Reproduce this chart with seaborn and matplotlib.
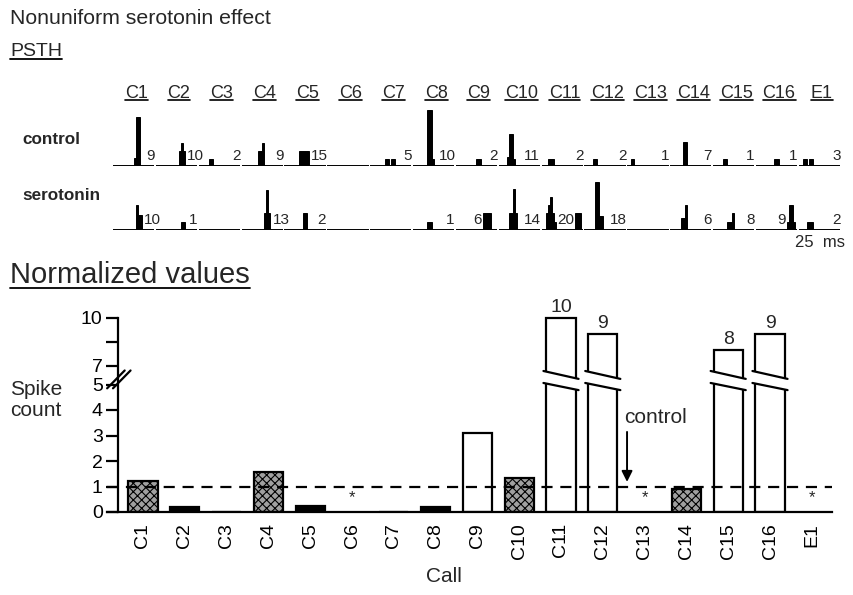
import numpy as np
import pandas as pd
import matplotlib
matplotlib.use("Agg")
import matplotlib.pyplot as plt
import seaborn as sns
from matplotlib.lines import Line2D
from matplotlib.patches import Polygon
from matplotlib.transforms import blended_transform_factory

# ---------------- data ----------------
calls = ["C1", "C2", "C3", "C4", "C5", "C6", "C7", "C8", "C9",
         "C10", "C11", "C12", "C13", "C14", "C15", "C16", "E1"]

control_counts = [9, 10, 2, 9, 15, None, 5, 10, 2, 11, 2, 2, 1, 7, 1, 1, 3]
serotonin_counts = [10, 1, None, 13, 2, None, None, 1, 6, 14, 20, 18, None, 6, 8, 9, 2]

# PSTH: {bin index (1.25 ms bins): spikes per bin}
control_psth = [
    {10: 1.1, 11: 7, 12: 7},
    {11: 2.2, 12: 3.3, 13: 2.2},
    {5: 1, 6: 1},
    {8: 2.1, 9: 2.1, 10: 3.3},
    {7: 2.1, 8: 2.1, 9: 2.1, 10: 2.1, 11: 2.1},
    {},
    {7: 1, 8: 1, 10: 1, 11: 1},
    {7: 8, 8: 8, 9: 1},
    {10: 1, 11: 1},
    {4: 1.3, 5: 4.6, 6: 4.6, 7: 1},
    {3: 1, 4: 1, 5: 1},
    {4: 1, 5: 1},
    {2: 1},
    {6: 3.4, 7: 3.4},
    {5: 1, 6: 1},
    {9: 1, 10: 1},
    {2: 1, 3: 1, 5: 1, 6: 1},
]
serotonin_psth = [
    {11: 3.6, 12: 2.1, 13: 2.1},
    {12: 1.2, 13: 1.2},
    {},
    {11: 2.4, 12: 5.7, 13: 2.4},
    {9: 2.4, 10: 2.4},
    {},
    {},
    {7: 1.2, 8: 1.2},
    {13: 2.4, 14: 2.4, 15: 2.4, 16: 2.4},
    {5: 2.4, 6: 2.4, 7: 5.9, 8: 2.4},
    {2: 2.4, 3: 3.6, 4: 4.7, 5: 2.4, 6: 1.2, 16: 2.4, 17: 2.4, 18: 2.4},
    {5: 6.9, 6: 6.9, 7: 2.0, 8: 2.0},
    {},
    {5: 1.7, 6: 1.7, 7: 3.6},
    {7: 1.2, 8: 1.2, 9: 2.4},
    {15: 1.2, 16: 3.6, 17: 3.6, 18: 1.2},
    {4: 1.2, 5: 1.2, 6: 1.2},
]

# normalized spike count (serotonin / control); NaN = undefined (*)
normalized = [1.22, 0.18, 0.0, 1.55, 0.25, np.nan, 0.0, 0.18, 3.1,
              1.35, 10, 9, np.nan, 0.9, 8, 9, np.nan]
effect = ["similar", "decrease", "decrease", "similar", "decrease", "undef",
          "decrease", "decrease", "increase", "similar", "increase", "increase",
          "undef", "similar", "increase", "increase", "undef"]

y_ticks = [0, 1, 2, 3, 4, 5, 7, 8.5, 10]
y_ticklabels = ["0", "1", "2", "3", "4", "5", "7", "", "10"]

# ---------------- style ----------------
sns.set_theme(style="white")
plt.rcParams["font.family"] = ["Liberation Sans", "DejaVu Sans"]
plt.rcParams["hatch.color"] = "black"
plt.rcParams["hatch.linewidth"] = 0.8

W, H = 854, 595
fig = plt.figure(figsize=(W / 100, H / 100), dpi=100)
fig.patch.set_facecolor("white")


def fx(px):
    return px / W


def fy(py):
    return 1 - py / H


# ---------------- headers ----------------
hdr_title = fig.text(fx(10), fy(19), "Nonuniform serotonin effect", fontsize=15.3,
                     ha="left", va="center")
hdr_psth = fig.text(fx(10), fy(51), "PSTH", fontsize=14, ha="left", va="center")
hdr_norm = fig.text(fx(10), fy(275), "Normalized values", fontsize=21,
                    ha="left", va="center")

# ---------------- PSTH rows ----------------
BIN = 1.25          # ms
SEG = 25.0          # ms per segment
PITCH = 26.0        # ms between segment starts
UNIT_PX = 7.0
n = len(calls)
x_left, x_right = 113, 840
row_h = 62


def psth_row(bottom_px, psth, counts, label, label_y):
    ax = fig.add_axes([fx(x_left), fy(bottom_px), (x_right - x_left) / W, row_h / H])
    ax.set_xlim(0, n * PITCH - 1)
    ax.set_ylim(0, row_h / UNIT_PX)
    ax.axis("off")
    for i, (hist, cnt) in enumerate(zip(psth, counts)):
        t0 = i * PITCH
        ax.hlines(0, t0, t0 + SEG, color="black", lw=1.4)
        if hist:
            bins = sorted(hist)
            ax.bar([t0 + b * BIN for b in bins], [hist[b] for b in bins],
                   width=BIN, align="edge", color="black", linewidth=0.7,
                   edgecolor="black")
        if cnt is None:
            continue
        s = str(cnt)
        w = 4.8 * len(s)
        bins = sorted(hist)
        start = bins[0] * BIN
        end = (bins[-1] + 1) * BIN
        left = max(end + 1.3, SEG - w)
        if left <= 21:
            xpos, ha = t0 + left, "left"
        else:
            # look for a gap between bursts
            xpos, ha = None, "left"
            for a, b in zip(bins[:-1], bins[1:]):
                gap = (b - a - 1) * BIN
                if gap >= w + 0.5:
                    xpos = t0 + (a + 1) * BIN + 0.8
                    break
            if xpos is None:
                xpos, ha = t0 + start - 0.6, "right"
        ax.text(xpos, 0.8, s, fontsize=11, ha=ha, va="baseline")
    fig.text(fx(22), fy(label_y), label, fontsize=12.3, fontweight="bold",
             ha="left", va="center")
    return ax


ax_c = psth_row(166, control_psth, control_counts, "control", 139)
ax_s = psth_row(230, serotonin_psth, serotonin_counts, "serotonin", 196)

# call labels above
trans_lab = blended_transform_factory(ax_c.transData, fig.transFigure)
call_texts = []
for i, c in enumerate(calls):
    t = ax_c.text(i * PITCH + SEG / 2 + 1.5, fy(93), c, fontsize=13, ha="center",
                  va="center", transform=trans_lab)
    call_texts.append(t)

ax_s.text(n * PITCH + 2, -1.75, "25  ms", fontsize=12, ha="right", va="center")

# ---------------- normalized bar chart ----------------
F_GAP = 0.737
F_HI = 0.627


def fwd(v):
    v = np.asarray(v, dtype=float)
    return np.where(v <= 5, v,
                    np.where(v <= 7, 5 + (v - 5) * F_GAP / 2,
                             5 + F_GAP + (v - 7) * F_HI))


def inv(u):
    u = np.asarray(u, dtype=float)
    return np.where(u <= 5, u,
                    np.where(u <= 5 + F_GAP, 5 + (u - 5) * 2 / F_GAP,
                             7 + (u - 5 - F_GAP) / F_HI))


PX_UNIT = 25.5
ax_left, ax_right, ax_bottom, ax_top = 107, 832, 512, 300
ax = fig.add_axes([fx(ax_left), fy(ax_bottom), (ax_right - ax_left) / W,
                   (ax_bottom - ax_top) / H])
ax.set_facecolor("white")

df = pd.DataFrame({"call": calls, "value": normalized, "effect": effect})
sns.barplot(data=df.dropna(), x="call", y="value", order=calls, color="white",
            width=0.7, edgecolor="black", linewidth=1.6, saturation=1, ax=ax,
            errorbar=None)

ax.set_yscale("function", functions=(fwd, inv))
step = 41.8
ax.set_xlim(-(143 - ax_left) / step, (ax_right - 143) / step)
ytop_u = (ax_bottom - ax_top) / PX_UNIT
ax.set_ylim(0, float(inv(ytop_u)))

styles = {
    "similar": dict(facecolor="#a0a0a0", hatch="xxxx"),
    "decrease": dict(facecolor="black", hatch=None),
    "increase": dict(facecolor="white", hatch=None),
}
for p in ax.patches:
    idx = int(round(p.get_x() + p.get_width() / 2))
    st = styles.get(effect[idx])
    if st:
        p.set_facecolor(st["facecolor"])
        p.set_hatch(st["hatch"])
    p.set_zorder(2)

# axis styling
for side in ["top", "right"]:
    ax.spines[side].set_visible(False)
ax.spines["left"].set_position(("data", -(143 - 118) / step))
ax.spines["left"].set_bounds(0, 10)
ax.spines["left"].set_linewidth(1.6)
ax.spines["bottom"].set_linewidth(1.6)
ax.spines["left"].set_color("black")
ax.spines["bottom"].set_color("black")
ax.set_yticks(y_ticks)
ax.set_yticklabels(y_ticklabels)
ax.yaxis.set_minor_locator(matplotlib.ticker.NullLocator())
ax.tick_params(axis="y", direction="out", length=9, width=1.6, labelsize=14,
               pad=2, colors="black", left=True)
ax.tick_params(axis="x", length=0, labelsize=14, pad=8, labelrotation=90,
               colors="black")
for lab in ax.get_xticklabels():
    lab.set_va("top")
ax.set_xlabel("Call", fontsize=15, labelpad=6, x=0.465)
ax.set_ylabel("")
ax.grid(False)

# control reference line
ax.axhline(1, color="black", lw=1.6, ls=(0, (5, 3.5)), zorder=3)

# value labels on broken bars, break marks
tr_xa = ax.get_xaxis_transform()


def ua(u):
    return u / ytop_u


for i, v in enumerate(normalized):
    if np.isnan(v):
        ax.text(i, 0.55, "*", fontsize=12, ha="center", va="center")
        continue
    if v > 7:
        ax.annotate(f"{v:g}", (i, v), xytext=(0, 1), textcoords="offset points",
                    ha="center", va="bottom", fontsize=14)
        xl, xr = i - 0.42, i + 0.42
        poly = Polygon([(xl, ua(5.53)), (xr, ua(5.22)), (xr, ua(4.78)), (xl, ua(5.06))],
                       closed=True, facecolor="white", edgecolor="none",
                       transform=tr_xa, zorder=4)
        ax.add_patch(poly)
        for (y1, y2) in [(5.53, 5.22), (5.06, 4.78)]:
            ax.add_line(Line2D([xl, xr], [ua(y1), ua(y2)], color="black", lw=1.6,
                               transform=tr_xa, zorder=5))

# y-axis break marks
xs = -(143 - 118) / step
for dx in (-0.06, 0.08):
    ax.add_line(Line2D([xs - 0.2 + dx, xs + 0.22 + dx], [ua(4.85), ua(5.55)],
                       color="black", lw=1.6, transform=tr_xa, clip_on=False,
                       zorder=6))

# control arrow
ax.annotate("", xy=(11.58, 1.18), xytext=(11.58, 3.14),
            arrowprops=dict(arrowstyle="-|>", color="black", lw=1.4,
                            mutation_scale=16, shrinkA=0, shrinkB=0))
ax.text(12.25, 3.69, "control", fontsize=15, ha="center", va="center")

fig.text(fx(10), fy(400), "Spike\ncount", fontsize=15, ha="left", va="center",
         linespacing=1.1)

# ---------------- underlines ----------------
fig.canvas.draw()
rend = fig.canvas.get_renderer()


def underline(t, off=0.0, lw=1.3):
    bb = t.get_window_extent(renderer=rend)
    y = bb.y0 + off
    fig.add_artist(Line2D([bb.x0 / W, bb.x1 / W], [y / H, y / H], color="black",
                          lw=lw, transform=fig.transFigure))


underline(hdr_psth, off=1)
underline(hdr_norm, off=1)
for t in call_texts:
    underline(t, off=1.5, lw=1.2)

fig.savefig("out.png", dpi=100, facecolor="white")
